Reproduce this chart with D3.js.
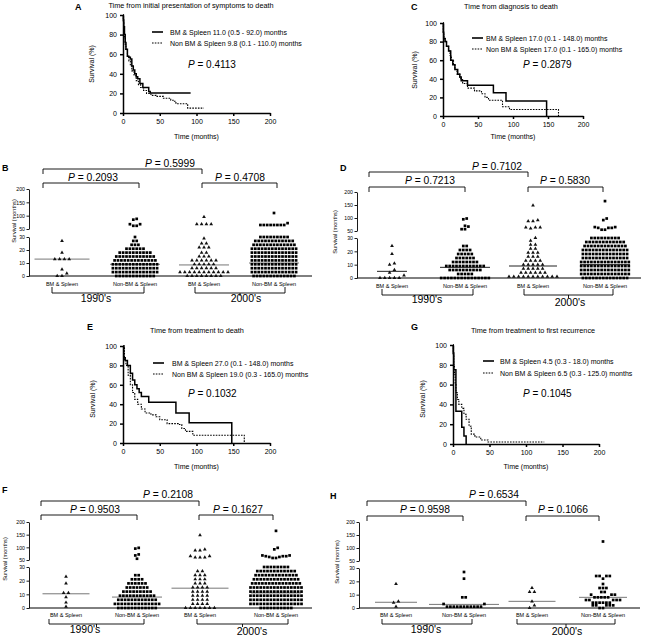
<!DOCTYPE html>
<html><head><meta charset="utf-8">
<script src="https://cdn.jsdelivr.net/npm/d3@7"></script>
<style>
body{margin:0;background:#fff}
svg{display:block;font-family:"Liberation Sans",Arial,sans-serif}
</style></head><body>
<script>
// ---------------- DATA ----------------
const kmXTicks = [0, 50, 100, 150, 200];
const kmYTicks = [0, 20, 40, 60, 80, 100];
const dotLoTicks = [0, 10, 20, 30];
const dotHiTicks = [50, 100, 150, 200];
const categories = ["BM & Spleen", "Non-BM & Spleen", "BM & Spleen", "Non-BM & Spleen"];
const eras = ["1990's", "2000's"];

// Panel A: time from initial presentation of symptoms to death
const aBmTime = [0, 0.5, 1, 2, 3, 4, 6, 8, 10, 12, 14, 16, 18, 20, 23, 27, 35, 37, 92];
const aBmSurv = [100, 95, 88, 80, 72, 65, 58, 57, 55, 48, 44, 40, 37, 35, 30, 26, 22, 20.5, 20.5];
const aNonTime = [0, 0.5, 1, 2, 3, 4, 6, 8, 10, 12, 15, 18, 21, 24, 28, 32, 38, 45, 55, 65, 70, 72, 86, 88, 110];
const aNonSurv = [100, 92, 85, 77, 70, 64, 58, 53, 48, 43, 38, 33, 29, 26, 23, 20, 18, 17, 15, 13, 12, 9.5, 9.5, 5, 5];
// Panel C: time from diagnosis to death
const cBmTime = [0, 0.5, 1, 3, 5, 8, 11, 14, 17, 21, 24, 26, 35, 72, 90, 148];
const cBmSurv = [100, 90, 83, 80, 75, 70, 60, 55, 50, 45, 42, 38, 33, 25, 16, 0];
const cNonTime = [0, 0.5, 1, 3, 5, 8, 10, 12, 15, 17, 20, 24, 28, 35, 45, 55, 60, 65, 85, 95, 165];
const cNonSurv = [100, 90, 85, 80, 75, 70, 65, 60, 55, 50, 45, 40, 35, 30, 27, 24, 20, 17, 10, 7, 0];
// Panel E: time from treatment to death
const eBmTime = [0, 1, 3, 6, 10, 13, 16, 19, 22, 25, 35, 72, 90, 148];
const eBmSurv = [100, 88, 85, 80, 72, 65, 60, 56, 52, 48, 42, 31, 21, 0];
const eNonTime = [0, 2, 4, 7, 10, 13, 16, 20, 25, 30, 38, 45, 50, 60, 75, 80, 85, 95, 165];
const eNonSurv = [100, 85, 80, 70, 60, 52, 45, 40, 35, 31, 29, 27, 24, 20, 19, 15, 12, 8, 0];
// Panel G: time from treatment to first recurrence
const gBmTime = [0, 0.3, 1, 4, 12, 15, 18];
const gBmSurv = [100, 92, 75, 33, 17, 8, 0];
const gNonTime = [0, 0.5, 1, 2, 3, 4, 6, 8, 12, 15, 18, 22, 25, 30, 38, 48, 125];
const gNonSurv = [100, 90, 80, 70, 60, 52, 45, 40, 36, 30, 25, 18, 10, 7, 4, 2, 2];

// Dot plots: [survival months, number of patients]
// Panel B (symptoms to death)
const bBm1990 = [[27,1],[18,1],[13,4],[5,1],[2,1],[0,2]];
const bNon1990 = [[88,1],[85,1],[68,2],[62,2],[30,1],[27,2],[24,3],[21,6],[18,10],[15,12],[12,13],[9,14],[6,14],[3,14],[0,12]];
const bBm2000 = [[95,1],[68,4],[29,1],[25,2],[22,3],[18,2],[15,3],[12,6],[9,5],[6,6],[3,11],[0,8]];
const bNon2000 = [[110,1],[72,1],[65,8],[30,9],[27,12],[24,13],[21,14],[18,14],[15,14],[12,14],[9,14],[6,14],[3,14],[0,13]];
const bMedians = [13, 9, 8.5, 10];
const bPValues = ["0.5999", "0.2093", "0.4708"];
// Panel D (diagnosis to death)
const dBm1990 = [[24,1],[18,1],[11,1],[10,1],[6,1],[4,1],[2,1],[0,5]];
const dNon1990 = [[98,1],[95,1],[70,1],[67,1],[57,2],[24,2],[21,4],[18,5],[15,6],[12,8],[9,12],[6,10],[3,5],[0,15]];
const dBm2000 = [[148,1],[92,1],[88,2],[64,3],[60,1],[30,1],[28,1],[25,2],[22,2],[19,3],[16,3],[13,4],[10,5],[7,5],[4,6],[1,11]];
const dNon2000 = [[165,1],[98,1],[92,1],[65,2],[62,3],[55,2],[30,9],[27,12],[24,13],[21,14],[18,14],[15,14],[12,15],[9,15],[6,15],[3,15],[0,14]];
const dMedians = [5, 8, 9, 10];
const dPValues = ["0.7102", "0.7213", "0.5830"];
// Panel F (treatment to death)
const fBm1990 = [[23,1],[18,1],[11,2],[8,1],[4,1],[1,1]];
const fNon1990 = [[98,1],[95,1],[72,1],[68,1],[55,1],[24,2],[21,4],[18,6],[15,7],[12,9],[9,11],[6,12],[3,14],[0,12]];
const fBm2000 = [[148,1],[92,1],[88,2],[65,2],[60,3],[27,2],[24,3],[21,3],[18,3],[15,4],[12,4],[9,4],[6,4],[3,4],[0,7]];
const fNon2000 = [[165,1],[98,1],[92,1],[68,2],[65,3],[62,2],[58,2],[30,8],[27,12],[24,13],[21,14],[18,15],[15,16],[12,16],[9,16],[6,16],[3,16],[0,10]];
const fMedians = [10.4, 8, 14.5, 11];
const fPValues = ["0.2108", "0.9503", "0.1627"];
// Panel H (treatment to first recurrence)
const hBm1990 = [[18,1],[5,1],[4,1],[1,1]];
const hNon1990 = [[27,1],[22,1],[8,2],[3,2],[1,11]];
const hBm2000 = [[15,1],[12,2],[5,1],[2,1],[0,1]];
const hNon2000 = [[125,1],[24,4],[22,1],[18,1],[15,3],[12,2],[10,3],[8,5],[6,5],[4,6],[2,5],[0,2]];
const hMedians = [4.3, 2.7, 5, 8];
const hPValues = ["0.6534", "0.9598", "0.1066"];

// ---------------- DRAWING ----------------
const FONT = '"Liberation Sans",Arial,sans-serif';
const svg = d3.select("body").append("svg").attr("width", 650).attr("height", 636);

function txt(g, x, y, s, size, opts = {}) {
  const t = g.append("text").attr("x", x).attr("y", y).attr("font-size", size)
    .attr("text-anchor", opts.anchor || "start").attr("fill", "#000").text(s);
  if (opts.bold) t.attr("font-weight", "bold");
  return t;
}
function rotLabel(g, x, y, s, size) {
  g.append("text").attr("transform", `translate(${x},${y}) rotate(-90)`)
    .attr("text-anchor", "middle").attr("font-size", size).text(s);
}
function pText(g, x, y, val, size, anchor) {
  const t = g.append("text").attr("x", x).attr("y", y).attr("font-size", size)
    .attr("text-anchor", anchor || "middle");
  t.append("tspan").attr("font-style", "italic").text("P");
  t.append("tspan").text(" = " + val);
}
function styleAxis(a, fs, sw) {
  a.attr("font-family", FONT).attr("font-size", fs);
  a.select(".domain").attr("stroke-width", sw);
  a.selectAll(".tick line").attr("stroke-width", sw);
}

function kmPanel(c) {
  const g = svg.append("g");
  const x = d3.scaleLinear().domain([0, 200]).range([c.x0, c.x1]);
  const y = d3.scaleLinear().domain([0, 100]).range([c.y0, c.y1]);
  const ax = g.append("g").attr("transform", `translate(0,${c.y0})`)
    .call(d3.axisBottom(x).tickValues(kmXTicks).tickSize(3).tickSizeOuter(0));
  const ay = g.append("g").attr("transform", `translate(${c.x0},0)`)
    .call(d3.axisLeft(y).tickValues(kmYTicks).tickSize(3).tickSizeOuter(0));
  styleAxis(ax, 7, 1.5); styleAxis(ay, 7, 1.5);
  const line = d3.line().x(d => x(d[0])).y(d => y(d[1])).curve(d3.curveStepAfter);
  g.append("path").datum(d3.zip(c.nonT, c.nonS)).attr("d", line).attr("fill", "none")
    .attr("stroke", "#000").attr("stroke-width", 1.1).attr("stroke-dasharray", "1.6,1.2");
  g.append("path").datum(d3.zip(c.bmT, c.bmS)).attr("d", line).attr("fill", "none")
    .attr("stroke", "#000").attr("stroke-width", 1.5);
  txt(g, c.letterX, c.letterY, c.letter, 9, { bold: true });
  txt(g, c.titleX, c.titleY, c.title, 7.3, { anchor: "middle" });
  rotLabel(g, c.ylabX, c.ylabY, "Survival (%)", 7);
  txt(g, (c.x0 + c.x1) / 2, c.xlabY, "Time (months)", 7, { anchor: "middle" });
  const lg = g.append("g");
  if (c.clip) {
    const id = "clip" + c.letter;
    svg.append("clipPath").attr("id", id).append("rect").attr("x", 0).attr("y", 0).attr("width", c.clip).attr("height", 636);
    lg.attr("clip-path", `url(#${id})`);
  }
  lg.append("line").attr("x1", c.legX).attr("x2", c.legX + 11).attr("y1", c.legY1).attr("y2", c.legY1)
    .attr("stroke", "#000").attr("stroke-width", 1.6);
  lg.append("line").attr("x1", c.legX).attr("x2", c.legX + 11).attr("y1", c.legY2).attr("y2", c.legY2)
    .attr("stroke", "#000").attr("stroke-width", 1.1).attr("stroke-dasharray", "1.6,1.2");
  txt(lg, c.legTX, c.legY1 + 2.5, c.leg1, 7);
  txt(lg, c.legTX, c.legY2 + 2.5, c.leg2, 7);
  pText(g, c.pX, c.pY, c.p, 10, "start");
}

// GraphPad-like row layout: points whose y fall in the same band are placed side
// by side, lowest values in the centre (gives the curved rows of the original).
function layoutGroup(pairs, cx, yv, sp, binH) {
  const vals = [];
  pairs.forEach(([v, n]) => { for (let i = 0; i < n; i++) vals.push(v); });
  vals.sort((a, b) => a - b);
  const rows = []; let cur = null;
  vals.forEach(v => {
    const py = yv(v);
    if (cur && Math.abs(py - cur.y) < binH) cur.items.push(v);
    else { cur = { y: py, items: [v] }; rows.push(cur); }
  });
  const pts = [];
  rows.forEach(r => {
    const n = r.items.length;
    const offs = d3.range(n).map(i => i - (n - 1) / 2)
      .sort((a, b) => Math.abs(a) - Math.abs(b) || a - b);
    r.items.forEach((v, i) => pts.push({ x: cx + offs[i] * sp, y: yv(v) }));
  });
  return pts;
}

function dotPanel(c) {
  const g = svg.append("g");
  const lo = d3.scaleLinear().domain([0, 30]).range([c.y0, c.y30]);
  const hi = d3.scaleLinear().domain([50, 200]).range([c.y50, c.y200]);
  const yv = v => v <= 30 ? lo(v) : (v >= 50 ? hi(v) : c.y30 + (v - 30) / 20 * (c.y50 - c.y30));
  const a1 = g.append("g").attr("transform", `translate(${c.ax},0)`)
    .call(d3.axisLeft(lo).tickValues(dotLoTicks).tickSize(2.5).tickPadding(1.5).tickSizeOuter(0));
  const a2 = g.append("g").attr("transform", `translate(${c.ax},0)`)
    .call(d3.axisLeft(hi).tickValues(dotHiTicks).tickSize(2.5).tickPadding(1.5).tickSizeOuter(0));
  styleAxis(a1, 5.2, 0.9); styleAxis(a2, 5.2, 0.9);
  g.append("line").attr("x1", c.ax).attr("x2", c.xr).attr("y1", c.y0).attr("y2", c.y0)
    .attr("stroke", "#000").attr("stroke-width", 1);
  rotLabel(g, c.ylabX, c.ylabY, "Survival (months)", 5.6);
  categories.forEach((s, i) => txt(g, c.centers[i], c.catY, s, 5.5, { anchor: "middle" }));
  c.medians.forEach((m, i) => {
    g.append("line").attr("x1", c.centers[i] - c.medW[i] / 2).attr("x2", c.centers[i] + c.medW[i] / 2)
      .attr("y1", yv(m)).attr("y2", yv(m)).attr("stroke", c.medColor).attr("stroke-width", 1);
  });
  c.groups.forEach((grp, i) => {
    const tri = i % 2 === 0;
    const pts = layoutGroup(grp, c.centers[i], yv, tri ? 4.8 : 3.4, 3);
    if (tri) {
      const sym = d3.symbol(d3.symbolTriangle).size(6)();
      g.selectAll(null).data(pts).enter().append("path").attr("d", sym)
        .attr("transform", d => `translate(${d.x},${d.y})`).attr("fill", "#111");
    } else {
      g.selectAll(null).data(pts).enter().append("rect")
        .attr("x", d => d.x - 1.35).attr("y", d => d.y - 1.35).attr("width", 2.7).attr("height", 2.7).attr("fill", "#000");
    }
  });
  c.pBrackets.forEach((b, i) => {
    g.append("path").attr("d", `M${b[0]},${b[2] + 5}V${b[2]}H${b[1]}V${b[2] + 5}`)
      .attr("fill", "none").attr("stroke", "#000").attr("stroke-width", 0.9);
    pText(g, b[3], b[4], c.p[i], 10.3, "middle");
  });
  c.eraBr.forEach((b, i) => {
    g.append("path").attr("d", `M${b[0]},${c.eraTop}V${c.eraH}H${b[1]}V${c.eraTop}M${(b[0] + b[1]) / 2},${c.eraH}V${c.eraH + 3}`)
      .attr("fill", "none").attr("stroke", "#000").attr("stroke-width", 0.9);
    txt(g, c.eraTx[i], c.eraTy[i], eras[i], 10.5, { anchor: "middle" });
  });
  txt(g, c.letterX, c.letterY, c.letter, 9, { bold: true });
}

kmPanel({ letter: "A", letterX: 75, letterY: 10, title: "Time from initial presentation of symptoms to death", titleX: 191, titleY: 8,
  x0: 123, x1: 270, y0: 113, y1: 15, ylabX: 94, ylabY: 64, xlabY: 139,
  bmT: aBmTime, bmS: aBmSurv, nonT: aNonTime, nonS: aNonSurv,
  legX: 152, legTX: 170, legY1: 32, legY2: 43, clip: 315,
  leg1: "BM & Spleen 11.0 (0.5 - 92.0) months", leg2: "Non BM & Spleen 9.8 (0.1 - 110.0) months",
  pX: 188, pY: 68, p: "0.4113" });
kmPanel({ letter: "C", letterX: 411, letterY: 10, title: "Time from diagnosis to death", titleX: 511, titleY: 9,
  x0: 443, x1: 583, y0: 116, y1: 23, ylabX: 417, ylabY: 70, xlabY: 139,
  bmT: cBmTime, bmS: cBmSurv, nonT: cNonTime, nonS: cNonSurv,
  legX: 472, legTX: 486, legY1: 38, legY2: 49,
  leg1: "BM & Spleen 17.0 (0.1 - 148.0) months", leg2: "Non BM & Spleen 17.0 (0.1 - 165.0) months",
  pX: 523, pY: 68, p: "0.2879" });
kmPanel({ letter: "E", letterX: 87, letterY: 330, title: "Time from treatment to death", titleX: 197, titleY: 333,
  x0: 123, x1: 270, y0: 443, y1: 346, ylabX: 95, ylabY: 399, xlabY: 469,
  bmT: eBmTime, bmS: eBmSurv, nonT: eNonTime, nonS: eNonSurv,
  legX: 153, legTX: 172, legY1: 363, legY2: 374,
  leg1: "BM & Spleen 27.0 (0.1 - 148.0) months", leg2: "Non BM & Spleen 19.0 (0.3 - 165.0) months",
  pX: 188, pY: 397, p: "0.1032" });
kmPanel({ letter: "G", letterX: 411, letterY: 330, title: "Time from treatment to first recurrence", titleX: 533, titleY: 333,
  x0: 453, x1: 599, y0: 444, y1: 345, ylabX: 425, ylabY: 399, xlabY: 469,
  bmT: gBmTime, bmS: gBmSurv, nonT: gNonTime, nonS: gNonSurv,
  legX: 483, legTX: 500, legY1: 361, legY2: 373,
  leg1: "BM & Spleen 4.5 (0.3 - 18.0) months", leg2: "Non BM & Spleen 6.5 (0.3 - 125.0) months",
  pX: 523, pY: 397, p: "0.1045" });

dotPanel({ letter: "B", letterX: 2, letterY: 171, ax: 29, xr: 312, y0: 276, y30: 237, y50: 229, y200: 189,
  ylabX: 16, ylabY: 221, centers: [62, 135, 204, 274], catY: 286,
  groups: [bBm1990, bNon1990, bBm2000, bNon2000], medians: bMedians, medW: [55, 50, 50, 50], medColor: "#777",
  pBrackets: [[43, 202, 169, 170, 167], [43, 139, 183, 93, 181], [202, 277, 183, 240, 181]], p: bPValues,
  eraBr: [[52, 144], [195, 285]], eraTop: 287, eraH: 293, eraTx: [96, 246], eraTy: [302, 302] });
dotPanel({ letter: "D", letterX: 340, letterY: 171, ax: 357, xr: 641, y0: 278, y30: 238, y50: 231, y200: 192,
  ylabX: 337, ylabY: 232, centers: [392, 465, 533, 605], catY: 288,
  groups: [dBm1990, dNon1990, dBm2000, dNon2000], medians: dMedians, medW: [30, 50, 48, 50], medColor: "#222",
  pBrackets: [[369, 528, 172, 497, 169.5], [369, 465, 187, 430, 184], [528, 603, 187, 565, 184]], p: dPValues,
  eraBr: [[382, 473], [524, 613]], eraTop: 289, eraH: 295, eraTx: [427, 570], eraTy: [303, 306] });
dotPanel({ letter: "F", letterX: 2, letterY: 493, ax: 29, xr: 312, y0: 608, y30: 567, y50: 560, y200: 522,
  ylabX: 7, ylabY: 559, centers: [66, 137, 200, 276], catY: 617,
  groups: [fBm1990, fNon1990, fBm2000, fNon2000], medians: fMedians, medW: [47, 50, 57, 50], medColor: "#777",
  pBrackets: [[41, 199, 501, 168, 498], [41, 137, 515, 95, 513], [199, 273, 515, 238, 513]], p: fPValues,
  eraBr: [[49, 144], [197, 288]], eraTop: 619, eraH: 624, eraTx: [85, 252], eraTy: [633, 635] });
dotPanel({ letter: "H", letterX: 330, letterY: 499, ax: 359, xr: 640, y0: 608, y30: 568, y50: 561, y200: 522,
  ylabX: 339, ylabY: 562, centers: [396, 464, 532, 603], catY: 617,
  groups: [hBm1990, hNon1990, hBm2000, hNon2000], medians: hMedians, medW: [42, 70, 47, 48], medColor: "#777",
  pBrackets: [[367, 526, 501, 494, 498], [367, 463, 516, 425, 513], [526, 599, 516, 563, 513]], p: hPValues,
  eraBr: [[382, 472], [517, 615]], eraTop: 619, eraH: 624, eraTx: [426, 567], eraTy: [633, 635] });
</script>
</body></html>
